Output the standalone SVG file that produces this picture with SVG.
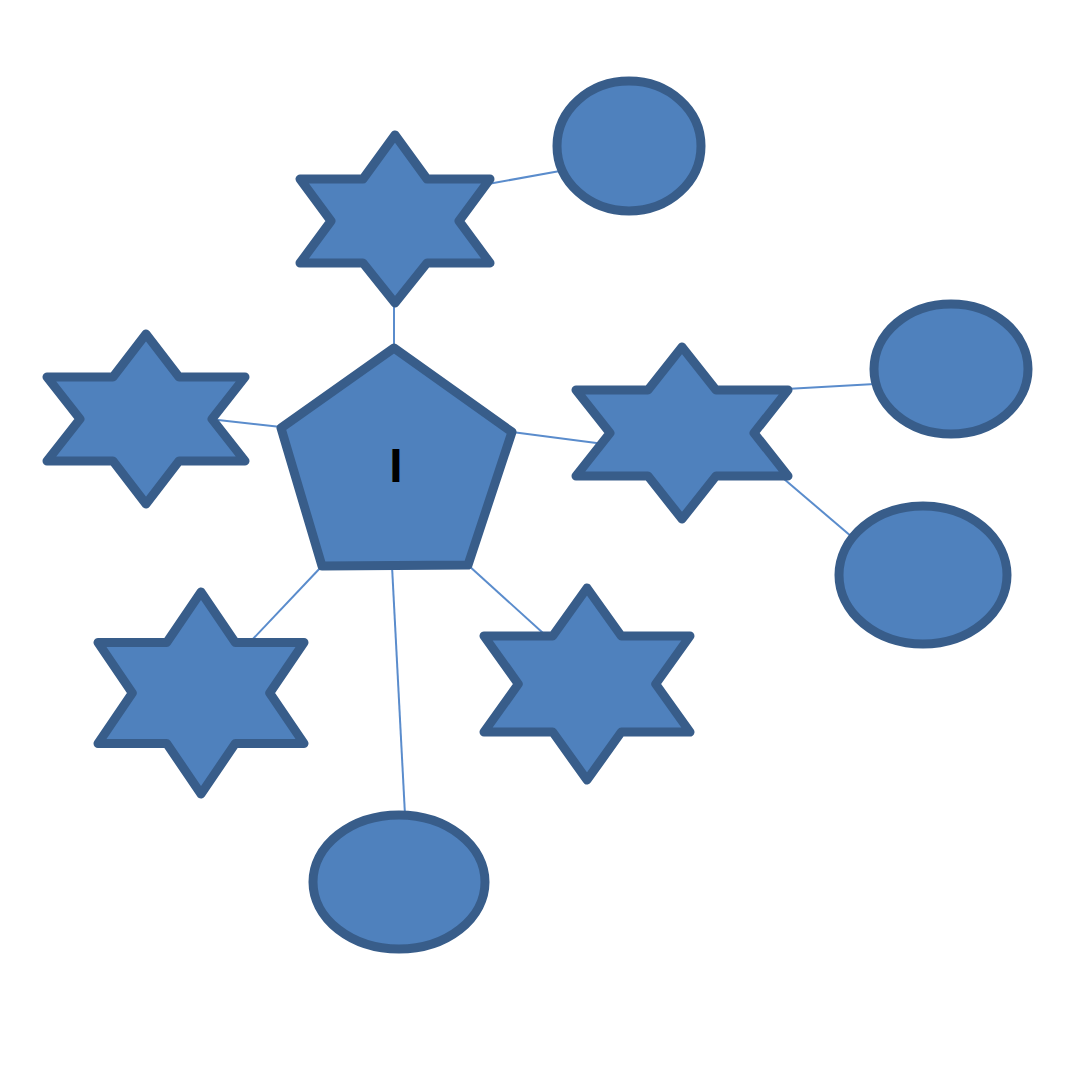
<svg xmlns="http://www.w3.org/2000/svg" width="1080" height="1080" viewBox="0 0 1080 1080">
<style>
.node{fill:#4f81bd;stroke:#385d8a;stroke-width:9;stroke-linejoin:round}
.conn{stroke:#5a8ccc;stroke-width:2;fill:none}
.lbl{font-family:"Liberation Sans",Arial,sans-serif;font-size:48px;font-weight:bold;fill:#000}
</style>
<rect width="1080" height="1080" fill="#ffffff"/>
<g id="connectors">
<line class="conn" x1="394" y1="303" x2="394" y2="348"/>
<line class="conn" x1="488" y1="184" x2="560" y2="171"/>
<line class="conn" x1="218" y1="420" x2="281" y2="427"/>
<line class="conn" x1="512" y1="432" x2="604" y2="444"/>
<line class="conn" x1="786" y1="389" x2="875" y2="384"/>
<line class="conn" x1="784" y1="479" x2="852" y2="537"/>
<line class="conn" x1="322" y1="566" x2="252" y2="640"/>
<line class="conn" x1="392" y1="566" x2="405" y2="815"/>
<line class="conn" x1="468" y1="565" x2="543" y2="633"/>
</g>
<g id="star-top">
<polygon class="node" points="395,135 427,179 490,179 459,221 490,263 427,263 395,303 363,263 300,263 331,221 300,179 363,179"/>
</g>
<g id="star-left">
<polygon class="node" points="146,334 179,377 245,377 212,419 245,461 179,461 146,504 113,461 47,461 80,419 47,377 113,377"/>
</g>
<g id="star-right">
<polygon class="node" points="682,347 716,390 788,390 754,433 788,476 716,476 682,519 648,476 576,476 610,433 576,390 648,390"/>
</g>
<g id="star-bottom-left">
<polygon class="node" points="201,592 235.3,642.5 304,642.5 269.7,693 304,743.5 235.3,743.5 201,794 166.7,743.5 98,743.5 132.3,693 98,642.5 166.7,642.5"/>
</g>
<g id="star-bottom-right">
<polygon class="node" points="587,588 621.3,636 690,636 655.7,684 690,732 621.3,732 587,780 552.7,732 484,732 518.3,684 484,636 552.7,636"/>
</g>
<g id="circle-top-right">
<ellipse class="node" cx="629" cy="146" rx="72" ry="65"/>
</g>
<g id="circle-right">
<ellipse class="node" cx="951" cy="369" rx="77" ry="65"/>
</g>
<g id="circle-right-lower">
<ellipse class="node" cx="923" cy="575" rx="84" ry="69"/>
</g>
<g id="circle-bottom">
<ellipse class="node" cx="399" cy="882" rx="86" ry="67"/>
</g>
<g id="pentagon">
<polygon class="node" points="394,348 512,432 468,565 322,566 281,428"/>
<text class="lbl" x="396" y="482" text-anchor="middle">I</text>
</g>
</svg>
